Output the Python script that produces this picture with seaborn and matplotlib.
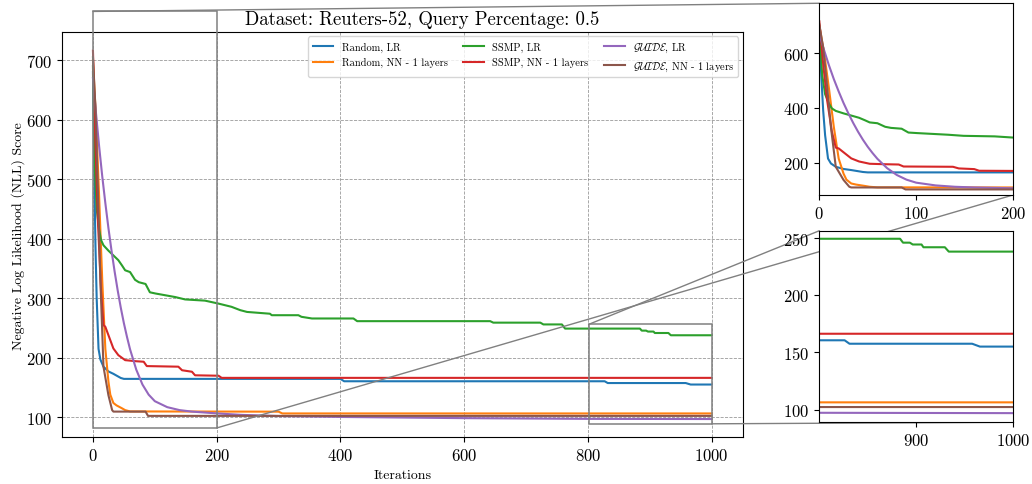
import numpy as np
import pandas as pd
import matplotlib
matplotlib.use("Agg")
import matplotlib.pyplot as plt
import seaborn as sns
from matplotlib.patches import Rectangle, ConnectionPatch

# ----------------------------- data ----------------------------- #
it_rand_lr = [0, 2, 4, 6, 9, 12, 17, 25, 33, 45, 50, 400, 406, 827, 832, 958, 966, 1000]
nll_rand_lr = [680, 520, 390, 300, 215, 197, 185, 177, 173, 166, 164.5, 164.5, 160.5, 160.5,
               157.5, 157.5, 155, 155]

it_rand_nn = [0, 5, 10, 15, 20, 25, 28, 33, 38, 47, 52, 60, 300, 306, 1000]
nll_rand_nn = [700, 600, 470, 330, 215, 160, 138, 124, 120, 115, 112, 109.8, 109.4, 106.4, 106.4]

it_ssmp_lr = [0, 3, 6, 10, 13, 17, 25, 33, 41, 47, 52, 60, 68, 74, 85, 92, 101, 117, 133, 149,
              181, 203, 224, 238, 249, 286, 289, 332, 337, 354, 421, 427, 642, 647, 723, 728,
              758, 763, 884, 887, 894, 897, 906, 908, 930, 934, 1000]
nll_ssmp_lr = [690, 520, 450, 415, 398, 389, 380, 372, 364, 355, 347, 344, 331, 327, 324, 310,
               308, 305, 302, 298, 296, 291, 285.6, 280, 277, 274, 271.5, 271.5, 268.8, 266,
               266, 261.5, 261.5, 259, 259, 256, 256, 249, 249, 245.6, 245.6, 244, 244, 241.6,
               241.6, 237.8, 237.8]

it_ssmp_nn = [0, 4, 8, 13, 17, 20, 25, 33, 41, 52, 68, 82, 87, 138, 144, 160, 165, 203, 208, 1000]
nll_ssmp_nn = [716, 560, 430, 313, 255, 252, 238, 215.6, 204.4, 196, 194.3, 193.3, 186, 185,
               179, 176.5, 170.5, 169.8, 166.2, 166.2]

it_guide_lr = [0, 5, 10, 15, 20, 25, 30, 35, 40, 45, 50, 55, 60, 70, 80, 90, 100, 120, 140,
               160, 200, 240, 300, 400, 600, 800, 1000]
nll_guide_lr = [670, 610, 555, 505, 460, 418, 380, 345, 313, 284, 258, 235, 214, 180, 155, 138,
                127, 117, 112, 109.5, 106.5, 104, 102, 100.5, 98.5, 97.3, 97]

it_guide_nn = [0, 4, 8, 12, 17, 25, 31, 33, 85, 89, 1000]
nll_guide_nn = [705, 620, 480, 330, 185, 137, 112, 109.5, 109.5, 102.3, 102.3]

labels = ['Random, LR', 'Random, NN - 1 layers', 'SSMP, LR', 'SSMP, NN - 1 layers',
          r'$\mathcal{GUIDE}$, LR', r'$\mathcal{GUIDE}$, NN - 1 layers']
series = [(it_rand_lr, nll_rand_lr), (it_rand_nn, nll_rand_nn), (it_ssmp_lr, nll_ssmp_lr),
          (it_ssmp_nn, nll_ssmp_nn), (it_guide_lr, nll_guide_lr), (it_guide_nn, nll_guide_nn)]

# ----------------------------- style ----------------------------- #
plt.rcParams['font.family'] = 'serif'
plt.rcParams['font.serif'] = ['cmr10', 'DejaVu Serif']
plt.rcParams['mathtext.fontset'] = 'cm'
plt.rcParams['axes.formatter.use_mathtext'] = True
plt.rcParams['axes.unicode_minus'] = False
colors = sns.color_palette('tab10', 6)

fig = plt.figure(figsize=(10.32, 4.85), dpi=100)
ax = fig.add_axes([0.0601, 0.0959, 0.6595, 0.8355])
axins1 = fig.add_axes([0.7939, 0.5959, 0.1877, 0.3953])
axins2 = fig.add_axes([0.7939, 0.1272, 0.1877, 0.3950])

for (xs, ys), lab, col in zip(series, labels, colors):
    df = pd.DataFrame({'it': xs, 'nll': ys})
    sns.lineplot(data=df, x='it', y='nll', ax=ax, color=col, label=lab, linewidth=1.5,
                 estimator=None, sort=False)
    for a in (axins1, axins2):
        sns.lineplot(data=df, x='it', y='nll', ax=a, color=col, linewidth=1.5,
                     estimator=None, sort=False, legend=False)

ax.set_xlim(-50, 1050)
ax.set_ylim(66, 747)
ax.set_xticks([0, 200, 400, 600, 800, 1000])
ax.set_yticks([100, 200, 300, 400, 500, 600, 700])
ax.grid(color='gray', linestyle='--', linewidth=0.6, alpha=0.8)
ax.set_xlabel('Iterations', fontsize=10)
ax.set_ylabel('Negative Log Likelihood (NLL) Score', fontsize=10, labelpad=1)
ax.set_title('Dataset: Reuters-52, Query Percentage: 0.5', fontsize=13.5, x=0.529)
ax.tick_params(labelsize=12)
ax.legend(ncol=3, loc='upper right', fontsize=7.5, handlelength=2.0, columnspacing=1.5,
          borderaxespad=0.4)

axins1.set_xlim(0, 200)
axins1.set_ylim(82, 782)
axins1.set_xticks([0, 100, 200])
axins1.set_yticks([200, 400, 600])
axins2.set_xlim(801, 1000)
axins2.set_ylim(89, 256)
axins2.set_xticks([900, 1000])
axins2.set_yticks([100, 150, 200, 250])
for a in (axins1, axins2):
    a.set_xlabel('')
    a.set_ylabel('')
    a.tick_params(labelsize=12)

# zoom boxes and connector lines
zooms = [(axins1, 0, 82, 200, 782), (axins2, 801, 89, 1000, 256)]
for a, x0, y0, x1, y1 in zooms:
    rect = Rectangle((x0, y0), x1 - x0, y1 - y0, fill=False, edgecolor='gray',
                     linewidth=1.1, zorder=5, clip_on=False)
    ax.add_artist(rect)
    for xy_data, xy_ax in [((x0, y1), (0, 1)), ((x1, y0), (1, 0))]:
        con = ConnectionPatch(xyA=xy_data, coordsA=ax.transData, xyB=xy_ax,
                              coordsB=a.transAxes, color='gray', linewidth=1.0, zorder=5)
        con.set_clip_on(False)
        ax.add_artist(con)

fig.savefig('out.png', dpi=100)
